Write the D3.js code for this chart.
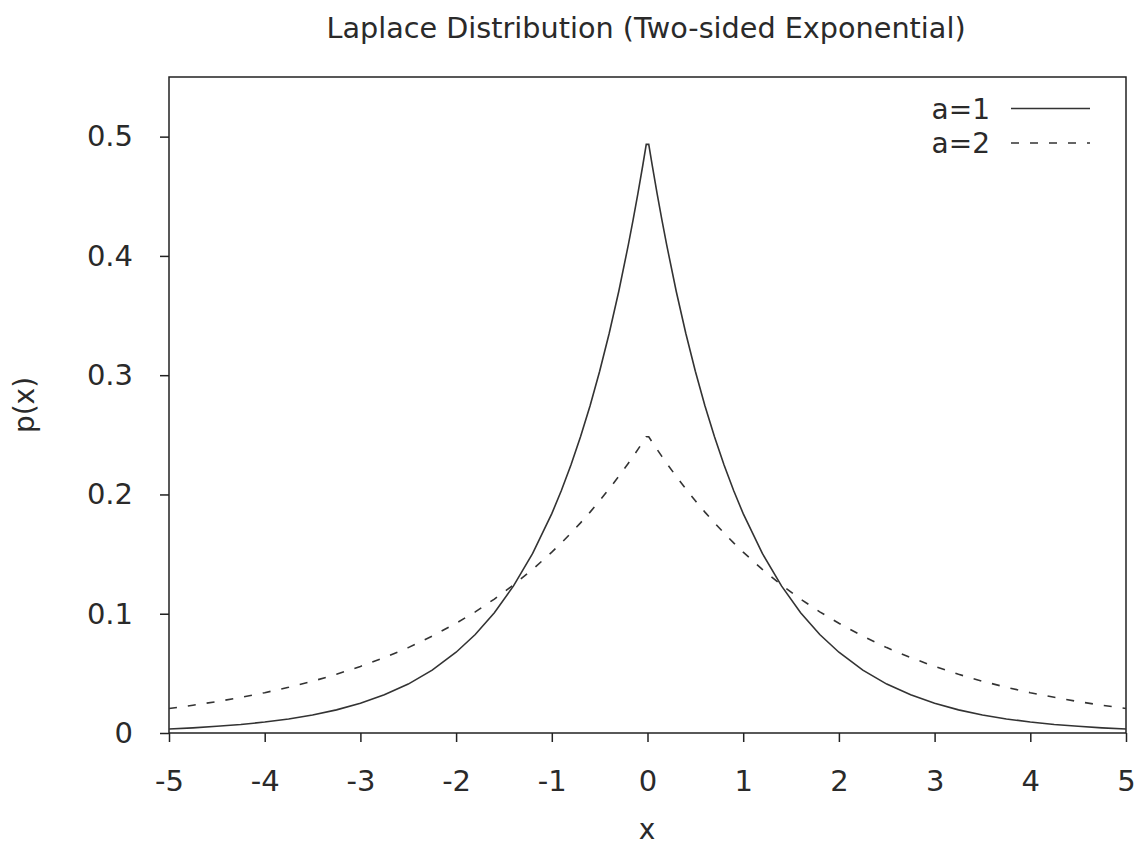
<!DOCTYPE html>
<html>
<head>
<meta charset="utf-8">
<script src="https://cdn.jsdelivr.net/npm/d3@7"></script>
<style>
  html, body { margin: 0; padding: 0; background: #fff; }
  svg { display: block; }
  text { font-family: "DejaVu Sans", sans-serif; fill: #2a2a2a; }
</style>
</head>
<body>
<svg id="chart" width="1138" height="846"></svg>
<script>
// ---- data ----
const titleText = "Laplace Distribution (Two-sided Exponential)";
const xLabel = "x";
const yLabel = "p(x)";
const seriesNames = ["a=1", "a=2"];
const xTicks = [-5, -4, -3, -2, -1, 0, 1, 2, 3, 4, 5];
const xTickLabels = ["-5", "-4", "-3", "-2", "-1", "0", "1", "2", "3", "4", "5"];
const yTicks = [0, 0.1, 0.2, 0.3, 0.4, 0.5];
const yTickLabels = ["0", "0.1", "0.2", "0.3", "0.4", "0.5"];

const xValues = [
  -5.0, -4.75, -4.5, -4.25, -4.0, -3.75, -3.5, -3.25, -3.0, -2.75, -2.5, -2.25,
  -2.0, -1.8, -1.6, -1.4, -1.2, -1.0, -0.9, -0.8, -0.7, -0.6, -0.5, -0.4, -0.3,
  -0.2, -0.15, -0.1, -0.05, -0.013,
  0.013, 0.05, 0.1, 0.15, 0.2,
  0.3, 0.4, 0.5, 0.6, 0.7, 0.8, 0.9, 1.0, 1.2, 1.4, 1.6, 1.8, 2.0,
  2.25, 2.5, 2.75, 3.0, 3.25, 3.5, 3.75, 4.0, 4.25, 4.5, 4.75, 5.0
];
const seriesA1 = [
  0.0034, 0.0043, 0.0056, 0.0071, 0.0092, 0.0118, 0.0151, 0.0194, 0.0249, 0.0320, 0.0410, 0.0527,
  0.0677, 0.0826, 0.1009, 0.1233, 0.1506, 0.1839, 0.2033, 0.2247, 0.2483, 0.2744, 0.3033, 0.3352, 0.3704,
  0.4094, 0.4304, 0.4524, 0.4756, 0.4935,
  0.4935, 0.4756, 0.4524, 0.4304, 0.4094,
  0.3704, 0.3352, 0.3033, 0.2744, 0.2483, 0.2247, 0.2033, 0.1839, 0.1506, 0.1233, 0.1009, 0.0826, 0.0677,
  0.0527, 0.0410, 0.0320, 0.0249, 0.0194, 0.0151, 0.0118, 0.0092, 0.0071, 0.0056, 0.0043, 0.0034
];
const seriesA2 = [
  0.0205, 0.0233, 0.0263, 0.0299, 0.0338, 0.0383, 0.0434, 0.0492, 0.0558, 0.0632, 0.0716, 0.0812,
  0.0920, 0.1016, 0.1123, 0.1241, 0.1372, 0.1516, 0.1594, 0.1676, 0.1762, 0.1852, 0.1947, 0.2047, 0.2152,
  0.2262, 0.2319, 0.2378, 0.2438, 0.2484,
  0.2484, 0.2438, 0.2378, 0.2319, 0.2262,
  0.2152, 0.2047, 0.1947, 0.1852, 0.1762, 0.1676, 0.1594, 0.1516, 0.1372, 0.1241, 0.1123, 0.1016, 0.0920,
  0.0812, 0.0716, 0.0632, 0.0558, 0.0492, 0.0434, 0.0383, 0.0338, 0.0299, 0.0263, 0.0233, 0.0205
];

// ---- layout ----
const svg = d3.select("#chart");
const plotL = 169, plotR = 1126, plotT = 77, plotB = 733;
const x = d3.scaleLinear().domain([-5, 5]).range([plotL, plotR]);
const y = d3.scaleLinear().domain([0, 0.55]).range([plotB, plotT]);
const ink = "#222";
const textInk = "#2a2a2a";
const tickFont = 29;
const labelFont = 28;

// title
svg.append("text").attr("x", 646).attr("y", 38).attr("text-anchor", "middle")
  .style("font-size", "28.7px").text(titleText);

// x axis
const xAxis = svg.append("g").attr("transform", `translate(0,${plotB})`)
  .call(d3.axisBottom(x).tickValues(xTicks).tickSize(9).tickPadding(28)
    .tickFormat((d, i) => xTickLabels[i]));
xAxis.select(".domain").remove();
xAxis.selectAll("line").attr("stroke", ink).attr("stroke-width", 1.5);
xAxis.selectAll("text").attr("font-family", "DejaVu Sans").style("font-size", tickFont + "px").attr("fill", textInk);

// y axis
const yAxis = svg.append("g").attr("transform", `translate(${plotL},0)`)
  .call(d3.axisLeft(y).tickValues(yTicks).tickSize(9).tickPadding(27)
    .tickFormat((d, i) => yTickLabels[i]));
yAxis.select(".domain").remove();
yAxis.selectAll("line").attr("stroke", ink).attr("stroke-width", 1.5);
yAxis.selectAll("text").attr("font-family", "DejaVu Sans").style("font-size", tickFont + "px").attr("fill", textInk);

// frame
svg.append("rect").attr("x", plotL).attr("y", plotT).attr("width", plotR - plotL).attr("height", plotB - plotT)
  .attr("fill", "none").attr("stroke", ink).attr("stroke-width", 1.5);

// axis labels
svg.append("text").attr("x", 647).attr("y", 839).attr("text-anchor", "middle")
  .style("font-size", labelFont + "px").text(xLabel);
svg.append("text").attr("transform", "translate(34,405) rotate(-90)").attr("text-anchor", "middle")
  .style("font-size", labelFont + "px").text(yLabel);

// curves
const line = d3.line().x(d => x(d[0])).y(d => y(d[1]));
const styles = [{ dash: null }, { dash: "8,11" }];
[seriesA1, seriesA2].forEach((s, i) => {
  svg.append("path").datum(xValues.map((xv, j) => [xv, s[j]]))
    .attr("d", line).attr("fill", "none").attr("stroke", "#333").attr("stroke-width", 1.6)
    .attr("stroke-dasharray", styles[i].dash);
});

// legend
seriesNames.forEach((name, i) => {
  const ly = 108.5 + i * 34.5;
  svg.append("text").attr("x", 990).attr("y", ly + 10).attr("text-anchor", "end")
    .style("font-size", labelFont + "px").text(name);
  svg.append("line").attr("x1", 1011).attr("x2", 1090).attr("y1", ly).attr("y2", ly)
    .attr("stroke", "#333").attr("stroke-width", 1.6).attr("stroke-dasharray", styles[i].dash);
});
</script>
</body>
</html>
